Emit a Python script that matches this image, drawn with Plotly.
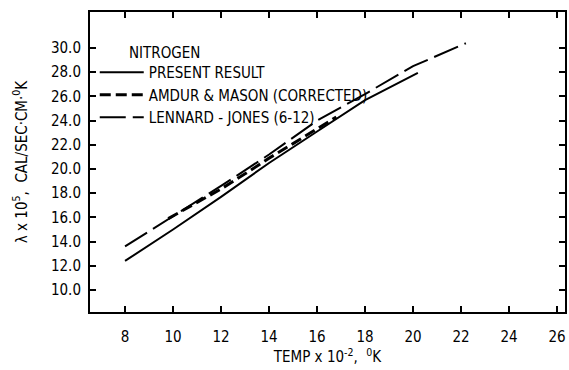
import plotly.graph_objects as go

# Data
present_x = [8.0, 9.4, 10.0, 12.0, 14.0, 16.0, 18.0, 20.2]
present_y = [12.4, 14.2, 15.0, 17.7, 20.5, 23.1, 25.7, 27.95]

amdur_x = [9.8, 11.0, 12.0, 13.0, 14.0, 15.0, 16.0, 16.8]
amdur_y = [15.9, 17.2, 18.35, 19.6, 20.9, 22.1, 23.3, 24.3]

lj_x = [8.0, 10.0, 12.0, 14.0, 16.0, 18.0, 20.0, 22.2]
lj_y = [13.6, 16.1, 18.6, 21.2, 24.0, 26.2, 28.5, 30.4]

x_ticks = [8, 10, 12, 14, 16, 18, 20, 22, 24, 26]
y_ticks = [10, 12, 14, 16, 18, 20, 22, 24, 26, 28, 30]
y_labels = [f"{v:.1f}" for v in y_ticks]

FONT = "Liberation Sans Narrow, DejaVu Sans Condensed, Arial Narrow, sans-serif"

fig = go.Figure()
fig.add_trace(go.Scatter(x=present_x, y=present_y, mode="lines", name="PRESENT RESULT",
                         line=dict(color="black", width=2)))
fig.add_trace(go.Scatter(x=amdur_x, y=amdur_y, mode="lines", name="AMDUR &amp; MASON (CORRECTED)",
                         line=dict(color="black", width=3, dash="11px,5px")))
fig.add_trace(go.Scatter(x=lj_x, y=lj_y, mode="lines", name="LENNARD - JONES (6-12)",
                         line=dict(color="black", width=2, dash="26px,7px")))

axis_common = dict(showline=True, linecolor="black", linewidth=2, mirror="ticks",
                   ticks="inside", ticklen=6, tickwidth=1.5, tickcolor="black",
                   showgrid=False, zeroline=False,
                   tickfont=dict(family=FONT, size=15, color="black"))

fig.update_xaxes(range=[6.54, 26.33], tickvals=x_ticks, ticktext=[str(v) for v in x_ticks],
                 ticklabelstandoff=10,
                 title=dict(text="TEMP x 10<sup>-2</sup>,  <sup>0</sup>K", standoff=4,
                            font=dict(family=FONT, size=15, color="black")),
                 **axis_common)
fig.update_yaxes(range=[8.18, 32.98], tickvals=y_ticks, ticktext=y_labels,
                 ticklabelstandoff=4,
                 title=dict(text="λ x 10<sup>5</sup>,  CAL/SEC·CM·<sup>0</sup>K", standoff=20,
                            font=dict(family=FONT, size=15, color="black")),
                 **axis_common)

fig.add_annotation(x=0.077, y=0.863, xref="paper", yref="paper", xanchor="left", yanchor="middle",
                   text="NITROGEN", showarrow=False, font=dict(family=FONT, size=15, color="black"))

fig.update_layout(
    width=569, height=370,
    margin=dict(l=90, r=2, t=12, b=58),
    paper_bgcolor="white", plot_bgcolor="white",
    showlegend=True,
    legend=dict(x=0.01, y=0.853, xanchor="left", yanchor="top", bgcolor="rgba(0,0,0,0)",
                font=dict(family=FONT, size=15, color="black"), tracegroupgap=0,
                itemwidth=44),
)

fig.write_html("out.html")
